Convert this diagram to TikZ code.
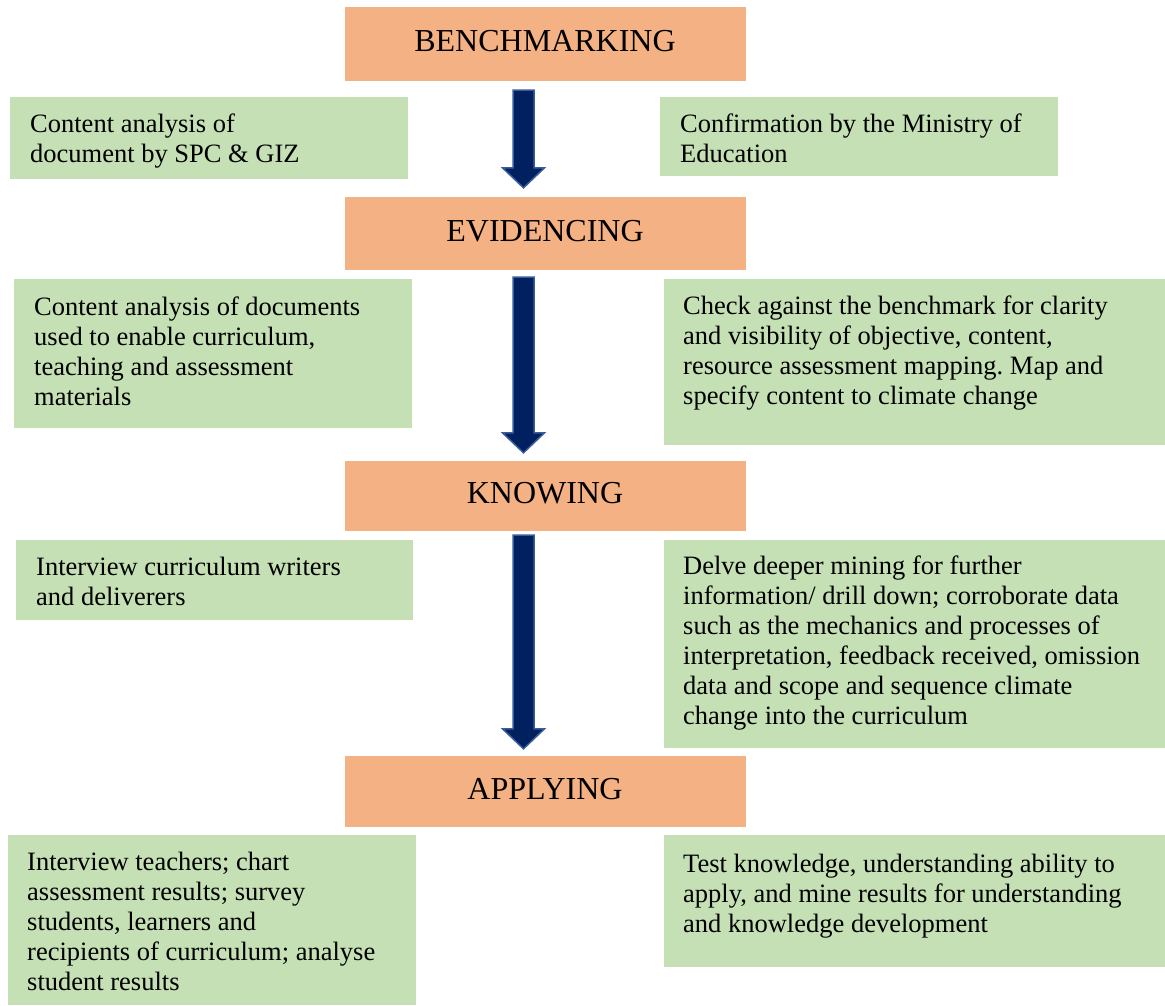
\documentclass[tikz,border=0pt]{standalone}
\usepackage{fontspec}
\setmainfont{Liberation Serif}
\frenchspacing
\usetikzlibrary{calc,positioning}
\definecolor{stagefill}{HTML}{F4B183}
\definecolor{notefill}{HTML}{C5E0B4}
\definecolor{arrowfill}{HTML}{002060}
\definecolor{arrowedge}{HTML}{3A5D9A}
\tikzset{
  stagebox/.style={fill=stagefill, minimum width=401pt, inner sep=0pt, text depth=6pt, font=\fontsize{32}{38}\selectfont},
  notebox/.style={fill=notefill, anchor=north west, inner sep=0pt},
  notetext/.style={anchor=north west, inner sep=0pt, align=left, font=\fontsize{26.5}{30}\selectfont},
  bigarrow/.style={fill=arrowfill, draw=arrowedge, line width=1.5pt, line join=miter}
}
% block arrow: #1 top of the shaft, #2 tip
\newcommand\blockarrow[2]{%
  \draw[bigarrow] let \p1=(#1), \p2=(#2) in
    (\x1-10.5pt,\y1) -- (\x1-10.5pt,\y2+20pt) -- (\x1-21pt,\y2+20pt) -- (\x1,\y2)
    -- (\x1+21pt,\y2+20pt) -- (\x1+10.5pt,\y2+20pt) -- (\x1+10.5pt,\y1) -- cycle;}

\begin{document}
\begin{tikzpicture}[x=1pt,y=-1pt]
  \useasboundingbox (0,0) rectangle (1165,1005);

  %%%%% stages %%%%%
  \node[stagebox, minimum height=74pt] (bench) at (545,44) {BENCHMARKING};
  \node[stagebox, minimum height=73pt] (evid) at (545,233.5) {EVIDENCING};
  \node[stagebox, minimum height=70pt] (know) at (545,496) {KNOWING};
  \node[stagebox, minimum height=71pt] (appl) at (545,791.5) {APPLYING};

  %%%%% notes %%%%%
  \node[notebox, minimum width=398pt, minimum height=82pt] (bench-l) at (10,97) {};
  \node[notetext, below right=17pt and 20pt of bench-l.north west] (bench-l-txt)
    {Content analysis of\\document by SPC \& GIZ};
  \node[notebox, minimum width=398pt, minimum height=79pt] (bench-r) at (660,97) {};
  \node[notetext, below right=17pt and 20pt of bench-r.north west] (bench-r-txt)
    {Confirmation by the Ministry of\\Education};

  \node[notebox, minimum width=398pt, minimum height=149pt] (evid-l) at (14,279) {};
  \node[notetext, below right=18pt and 20pt of evid-l.north west] (evid-l-txt)
    {Content analysis of documents\\used to enable curriculum,\\teaching and assessment\\materials};
  \node[notebox, minimum width=501pt, minimum height=166pt] (evid-r) at (664,279) {};
  \node[notetext, below right=17pt and 19pt of evid-r.north west] (evid-r-txt)
    {Check against the benchmark for clarity\\and visibility of objective, content,\\resource assessment mapping. Map and\\specify content to climate change};

  \node[notebox, minimum width=397pt, minimum height=80pt] (know-l) at (16,540) {};
  \node[notetext, below right=17pt and 20pt of know-l.north west] (know-l-txt)
    {Interview curriculum writers\\and deliverers};
  \node[notebox, minimum width=501pt, minimum height=208pt] (know-r) at (664,540) {};
  \node[notetext, below right=16pt and 19pt of know-r.north west] (know-r-txt)
    {Delve deeper mining for further\\information/ drill down; corroborate data\\such as the mechanics and processes of\\interpretation, feedback received, omission\\data and scope and sequence climate\\change into the curriculum};

  \node[notebox, minimum width=408pt, minimum height=170pt] (appl-l) at (8,835) {};
  \node[notetext, below right=17pt and 19pt of appl-l.north west] (appl-l-txt)
    {Interview teachers; chart\\assessment results; survey\\students, learners and\\recipients of curriculum; analyse\\student results};
  \node[notebox, minimum width=501pt, minimum height=132pt] (appl-r) at (664,835) {};
  \node[notetext, below right=19pt and 19pt of appl-r.north west] (appl-r-txt)
    {Test knowledge, understanding ability to\\apply, and mine results for understanding\\and knowledge development};

  %%%%% arrows %%%%%
  \coordinate (a1-s) at ([xshift=-21.5pt,yshift=-9pt]bench.south);
  \coordinate (a1-e) at ([xshift=-21.5pt,yshift=9pt]evid.north);
  \coordinate (a2-s) at ([xshift=-21.5pt,yshift=-7pt]evid.south);
  \coordinate (a2-e) at ([xshift=-21.5pt,yshift=8pt]know.north);
  \coordinate (a3-s) at ([xshift=-21.5pt,yshift=-4pt]know.south);
  \coordinate (a3-e) at ([xshift=-21.5pt,yshift=7pt]appl.north);
  \blockarrow{a1-s}{a1-e}
  \blockarrow{a2-s}{a2-e}
  \blockarrow{a3-s}{a3-e}
\end{tikzpicture}
\end{document}
